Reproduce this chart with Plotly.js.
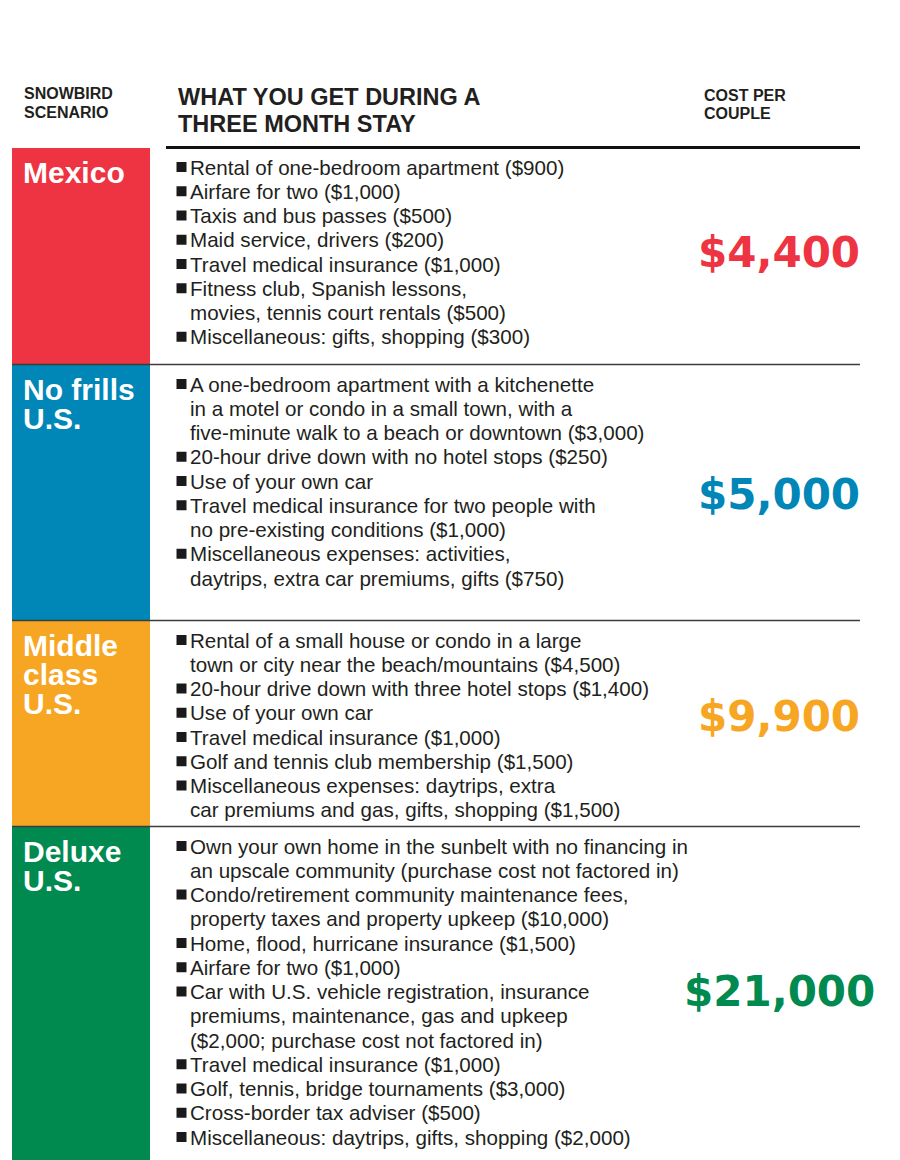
<!DOCTYPE html>
<html>
<head>
<meta charset="utf-8">
<script src="https://cdn.plot.ly/plotly-3.0.1.min.js"></script>
<style>html,body{margin:0;padding:0;background:#fff;}#chart{width:900px;height:1160px;}</style>
</head>
<body>
<div id="chart"></div>
<script>
// ---------- DATA ----------
const headerScenario = ["SNOWBIRD", "SCENARIO"];
const headerWhat = ["WHAT YOU GET DURING A", "THREE MONTH STAY"];
const headerCost = ["COST PER", "COUPLE"];

const scenarioLabels = [
  ["Mexico"],
  ["No frills", "U.S."],
  ["Middle", "class", "U.S."],
  ["Deluxe", "U.S."]
];

const costPerCouple = [4400, 5000, 9900, 21000];

const mexicoItems = [
  ["Rental of one-bedroom apartment ($900)"],
  ["Airfare for two ($1,000)"],
  ["Taxis and bus passes ($500)"],
  ["Maid service, drivers ($200)"],
  ["Travel medical insurance ($1,000)"],
  ["Fitness club, Spanish lessons,", "movies, tennis court rentals ($500)"],
  ["Miscellaneous: gifts, shopping ($300)"]
];
const noFrillsItems = [
  ["A one-bedroom apartment with a kitchenette", "in a motel or condo in a small town, with a", "five-minute walk to a beach or downtown ($3,000)"],
  ["20-hour drive down with no hotel stops ($250)"],
  ["Use of your own car"],
  ["Travel medical insurance for two people with", "no pre-existing conditions ($1,000)"],
  ["Miscellaneous expenses: activities,", "daytrips, extra car premiums, gifts ($750)"]
];
const middleClassItems = [
  ["Rental of a small house or condo in a large", "town or city near the beach/mountains ($4,500)"],
  ["20-hour drive down with three hotel stops ($1,400)"],
  ["Use of your own car"],
  ["Travel medical insurance ($1,000)"],
  ["Golf and tennis club membership ($1,500)"],
  ["Miscellaneous expenses: daytrips, extra", "car premiums and gas, gifts, shopping ($1,500)"]
];
const deluxeItems = [
  ["Own your own home in the sunbelt with no financing in", "an upscale community (purchase cost not factored in)"],
  ["Condo/retirement community maintenance fees,", "property taxes and property upkeep ($10,000)"],
  ["Home, flood, hurricane insurance ($1,500)"],
  ["Airfare for two ($1,000)"],
  ["Car with U.S. vehicle registration, insurance", "premiums, maintenance, gas and upkeep", "($2,000; purchase cost not factored in)"],
  ["Travel medical insurance ($1,000)"],
  ["Golf, tennis, bridge tournaments ($3,000)"],
  ["Cross-border tax adviser ($500)"],
  ["Miscellaneous: daytrips, gifts, shopping ($2,000)"]
];
const scenarioItems = [mexicoItems, noFrillsItems, middleClassItems, deluxeItems];

// ---------- STYLE / LAYOUT ----------
const colors = ["#EE3342", "#0086B7", "#F7A623", "#008A50"];
const W = 900, H = 1160;
const rowTops = [148, 365, 621, 827];
const rowBottoms = [364, 620, 826, 1160];
const costY = [252, 494, 716, 991];
const blockX0 = 12, blockX1 = 150;
const lineStep = 24.25, firstLineOffset = 19;
const itemFont = "Liberation Sans, Arial, sans-serif";
const boldFont = "Liberation Sans, Arial, sans-serif";
const textColor = "#231F20";

const shapes = [];
const annotations = [];
const bulletX = [], bulletY = [];

function fmtCost(v) { return "$" + v.toLocaleString("en-US"); }

// header
headerScenario.forEach((t, i) => annotations.push({x: 23, y: 93 + i * 19, text: "<b>" + t + "</b>",
  xanchor: "left", yanchor: "middle", font: {family: boldFont, size: 16, color: textColor}}));
headerWhat.forEach((t, i) => annotations.push({x: 177, y: 97 + i * 27, text: "<b>" + t + "</b>",
  xanchor: "left", yanchor: "middle", font: {family: boldFont, size: 23.5, color: textColor}}));
headerCost.forEach((t, i) => annotations.push({x: 703, y: 95 + i * 18.5, text: "<b>" + t + "</b>",
  xanchor: "left", yanchor: "middle", font: {family: boldFont, size: 16, color: textColor}}));

// top rule
shapes.push({type: "line", xref: "x", yref: "y", x0: 166, x1: 860, y0: 147.5, y1: 147.5,
  line: {color: "#111", width: 3}});

scenarioLabels.forEach((lines, r) => {
  const top = rowTops[r], bot = rowBottoms[r];
  shapes.push({type: "rect", xref: "x", yref: "y", x0: blockX0, x1: blockX1, y0: top, y1: bot,
    fillcolor: colors[r], line: {width: 0}, layer: "below"});
  if (r > 0) {
    shapes.push({type: "line", xref: "x", yref: "y", x0: blockX0, x1: 860, y0: top - 0.5, y1: top - 0.5,
      line: {color: "#3C3C3C", width: 1.6}});
  }
  lines.forEach((t, i) => annotations.push({x: 22, y: top + 24 + i * 29, text: "<b>" + t + "</b>",
    xanchor: "left", yanchor: "middle", font: {family: boldFont, size: 30, color: "#FFFFFF"}}));
  // items
  let li = 0;
  scenarioItems[r].forEach(item => {
    item.forEach((t, k) => {
      const y = top + firstLineOffset + li * lineStep;
      if (k === 0) { bulletX.push(181.5); bulletY.push(y); }
      annotations.push({x: 189, y: y, text: t, xanchor: "left", yanchor: "middle",
        font: {family: itemFont, size: 20.6, color: textColor}});
      li++;
    });
  });
  annotations.push({x: 779, y: costY[r], text: "<b>" + fmtCost(costPerCouple[r]) + "</b>",
    xanchor: "center", yanchor: "middle", font: {family: "DejaVu Sans, sans-serif", size: 42, color: colors[r]}});
});

const traces = [{
  type: "scatter", mode: "markers", x: bulletX, y: bulletY, hoverinfo: "skip",
  marker: {symbol: "square", size: 10, color: "#1a1a1a", line: {width: 0}}
}];

const layout = {
  width: W, height: H, margin: {l: 0, r: 0, t: 0, b: 0},
  paper_bgcolor: "#fff", plot_bgcolor: "#fff", showlegend: false,
  xaxis: {range: [0, W], visible: false, fixedrange: true},
  yaxis: {range: [H, 0], visible: false, fixedrange: true},
  shapes: shapes,
  annotations: annotations.map(a => Object.assign({xref: "x", yref: "y", showarrow: false, borderpad: 0}, a))
};

Plotly.newPlot("chart", traces, layout, {staticPlot: true, displayModeBar: false});
</script>
</body>
</html>
